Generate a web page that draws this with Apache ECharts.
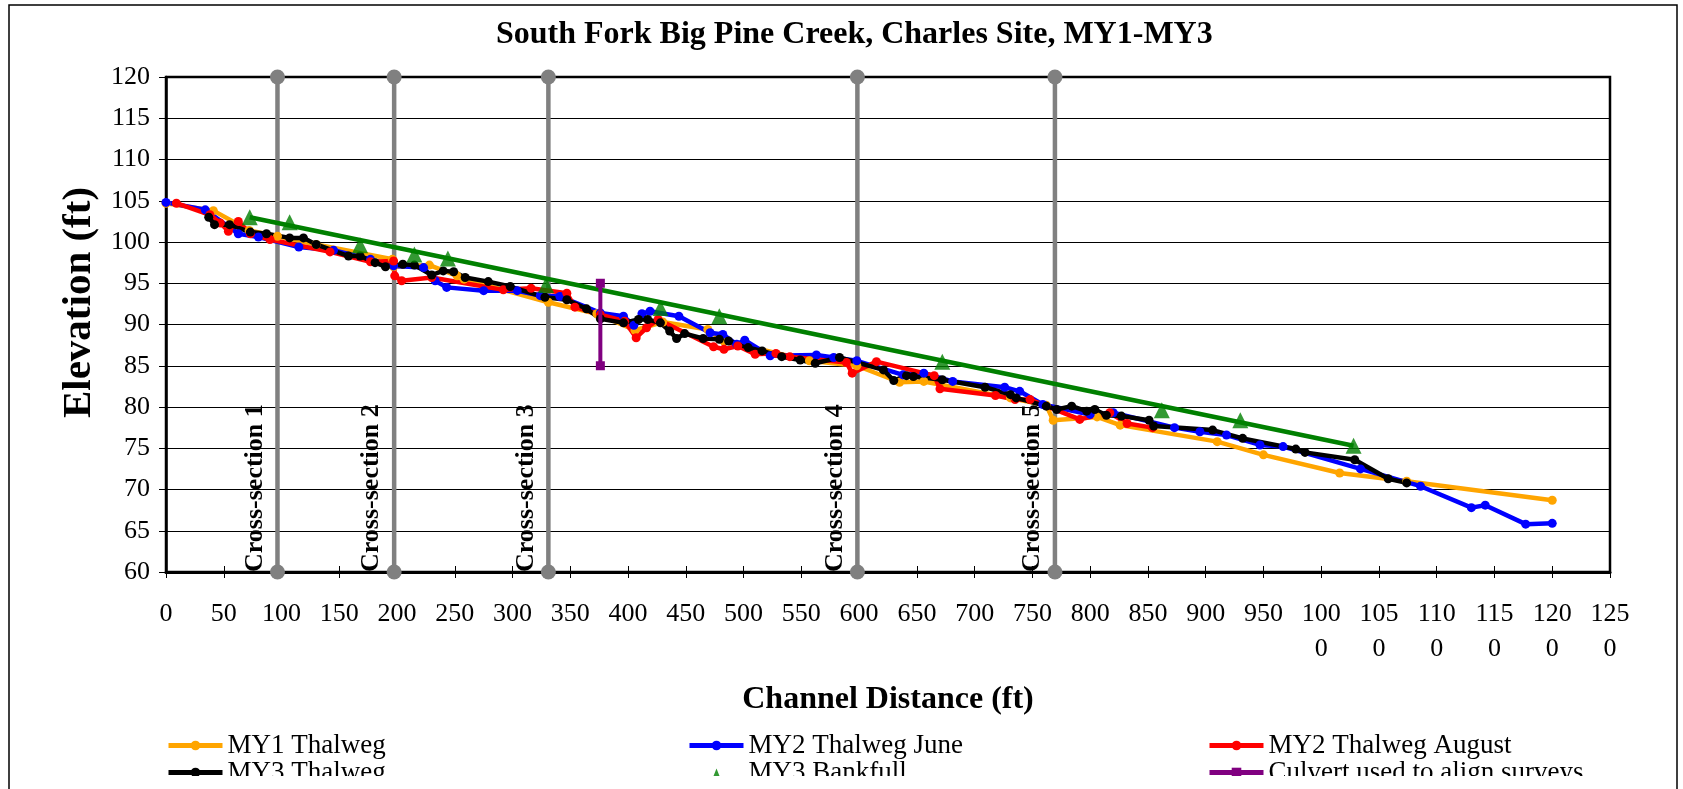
<!DOCTYPE html>
<html><head><meta charset="utf-8">
<script src="https://cdn.jsdelivr.net/npm/echarts@6/dist/echarts.min.js"></script>
<style>html,body{margin:0;padding:0;background:#fff}#c{width:1683px;height:789px}</style>
</head><body><div id="c"></div>
<script>
const titleText = 'South Fork Big Pine Creek, Charles Site, MY1-MY3';
const xAxisName = 'Channel Distance (ft)';
const yAxisName = 'Elevation (ft)';
const xMin = 0, xMax = 1250, xStep = 50;
const yMin = 60, yMax = 120, yStep = 5;

const seriesNames = ['MY1 Thalweg','MY2 Thalweg June','MY2 Thalweg August','MY3 Thalweg','MY3 Bankfull','Culvert used to align surveys'];

const my1Thalweg = [[0,104.7],[41,103.8],[72,101.4],[96.5,100.7],[130,99.7],[196,97.9],[197,97.0],[228,97.2],[252,95.9],[258,95.5],[331,92.7],[373,91.3],[406,89.3],[430,90.3],[469,89.4],[483,88.0],[557,85.6],[598,85.0],[635,83.0],[656,83.1],[731,81.1],[762,80.2],[768,78.4],[806,78.8],[826,77.8],[910,75.8],[950,74.2],[1016,72.0],[1074,71.0],[1200,68.7]];

const my2June = [[0,104.8],[34,103.9],[62.6,101.0],[80,100.6],[115,99.4],[145,99.0],[177,97.9],[197,97.1],[223,96.9],[233,95.3],[243,94.5],[275,94.1],[304,94.1],[324,93.5],[341,93.4],[376,91.4],[396,91.0],[405,89.9],[412,91.3],[419,91.6],[444,91.0],[471,89.0],[482,88.8],[494,87.6],[501,88.1],[523,86.2],[563,86.3],[578,86.0],[598,85.6],[638,83.9],[656,84.1],[681,83.1],[726,82.4],[739,81.9],[759,80.3],[800,79.1],[820,79.3],[873,77.5],[895,77.0],[918,76.6],[947,75.4],[967,75.2],[1034,72.5],[1086,70.4],[1130,67.8],[1142,68.1],[1177,65.8],[1200,65.9]];

const my2August = [[9,104.7],[38,103.3],[47,102.3],[54,101.3],[62.6,102.5],[73,101.0],[90,100.3],[142,98.8],[177,97.6],[197,97.7],[198,95.9],[204,95.3],[230,95.7],[292,94.2],[316,94.4],[347,93.8],[354,92.1],[376,91.2],[397,90.4],[407,88.4],[416,89.6],[426,90.6],[474,87.3],[483,87.0],[495,87.4],[510,86.4],[528,86.5],[540,86.1],[589,85.4],[594,84.1],[615,85.5],[665,83.8],[670,82.2],[718,81.4],[735,80.9],[748,80.9],[791,78.5],[817,79.3],[832,78.0],[854,77.5]];

const my3Thalweg = [[37,103.0],[42,102.1],[55,102.1],[73,101.2],[87,101.0],[107,100.5],[119,100.5],[130,99.7],[158,98.3],[168,98.3],[181,97.5],[190,97.0],[205,97.3],[215,97.2],[230,96.0],[240,96.5],[249,96.4],[259,95.7],[279,95.2],[298,94.6],[328,93.3],[347,93.0],[364,91.9],[376,90.7],[396,90.2],[409,90.6],[417,90.6],[428,90.2],[436,89.2],[442,88.3],[449,88.9],[465,88.3],[479,88.2],[487,88.0],[504,87.2],[516,86.8],[533,86.1],[549,85.7],[562,85.3],[583,86.0],[621,84.5],[630,83.2],[641,83.8],[647,83.7],[672,83.3],[709,82.4],[731,81.5],[736,81.1],[762,80.1],[771,79.7],[784,80.1],[797,79.5],[804,79.7],[814,79.0],[827,78.9],[851,78.4],[855,77.7],[906,77.2],[932,76.2],[978,74.9],[986,74.5],[1029,73.6],[1058,71.3],[1074,70.8]];

const my3Bankfull = [[72.5,103.0],[107,102.4],[168,99.6],[215,98.5],[244,98.0],[329,94.8],[428,92.0],[479,91.0],[672,85.5],[862,79.6],[930,78.4],[1028,75.3]];
const bankfullTrend = [[72.5,103.0],[1028,75.3]];

const culvert = [[376,85],[376,95]];

const crossSectionX = [96.5,197.5,331,598.5,769.5];
const crossSectionNames = ['Cross-section 1','Cross-section 2','Cross-section 3','Cross-section 4','Cross-section 5'];

const FONT = "'Liberation Serif','Times New Roman',serif";

const chart = echarts.init(document.getElementById('c'));

const xsSeries = crossSectionX.map((x,i)=>({
  type:'line', name:'xs'+i, silent:true, z:1,
  data:[{value:[x,yMin], label:{show:true}}, {value:[x,yMax]}],
  symbol:'circle', symbolSize:15,
  lineStyle:{color:'#808080', width:4.5},
  itemStyle:{color:'#808080'},
  label:{show:false, formatter:crossSectionNames[i], position:'left', distance:2, rotate:90,
    align:'left', verticalAlign:'bottom', fontFamily:FONT, fontWeight:'bold', fontSize:26, color:'#000'},
  animation:false
}));

function thalweg(name, data, color){
  return {type:'line', name, data, symbol:'circle', symbolSize:9, showSymbol:true,
    lineStyle:{color, width:4.5}, itemStyle:{color}, z:3, animation:false};
}

const legendBase = {top:732, orient:'vertical', padding:0, itemWidth:54, itemHeight:12, itemGap:0,
  lineStyle:{width:5},
  textStyle:{fontFamily:FONT, fontSize:27, color:'#000', lineHeight:24}};
const triIcon = 'path://M0,0L0.01,0M54,12L53.99,12M23,12L27,2L31,12Z';

const option = {
  backgroundColor:'#fff',
  animation:false,
  title:{text:titleText, left:491, top:14,
    textStyle:{fontFamily:FONT, fontWeight:'bold', fontSize:32, color:'#000'}},
  grid:{left:166, right:73, top:77, bottom:217, show:true, borderColor:'#000', borderWidth:2.5},
  xAxis:[{
    type:'value', min:xMin, max:xMax, interval:xStep,
    name:xAxisName, nameLocation:'middle', nameGap:112,
    nameTextStyle:{fontFamily:FONT, fontWeight:'bold', fontSize:32, color:'#000'},
    axisLine:{show:true, onZero:false, lineStyle:{color:'#000', width:3}},
    axisTick:{show:true, length:6, lineStyle:{color:'#000', width:1}},
    axisLabel:{fontFamily:FONT, fontSize:26, color:'#000', margin:25, lineHeight:35,
      formatter:v=>{const s=String(v); return s.length>3 ? s.slice(0,3)+'\n'+s.slice(3) : s;}},
    splitLine:{show:false}
  },{
    type:'value', min:xMin, max:xMax, interval:xStep, position:'bottom', offset:0,
    axisLine:{show:false}, axisLabel:{show:false}, splitLine:{show:false},
    axisTick:{show:true, inside:true, length:6, lineStyle:{color:'#000', width:1}}
  }],
  yAxis:{
    type:'value', min:yMin, max:yMax, interval:yStep,
    name:yAxisName, nameLocation:'middle', nameGap:64,
    nameTextStyle:{fontFamily:FONT, fontWeight:'bold', fontSize:41, color:'#000', padding:[0,0,0,44]},
    axisLine:{show:true, onZero:false, lineStyle:{color:'#000', width:2.5}},
    axisTick:{show:true, length:7, lineStyle:{color:'#000', width:1}},
    axisLabel:{fontFamily:FONT, fontSize:26, color:'#000', margin:16},
    splitLine:{show:true, lineStyle:{color:'#000', width:1}}
  },
  legend:[
    Object.assign({}, legendBase, {left:166, data:[seriesNames[0], seriesNames[3]]}),
    Object.assign({}, legendBase, {left:687, data:[seriesNames[1], {name:seriesNames[4], icon:triIcon}]}),
    Object.assign({}, legendBase, {left:1207, data:[seriesNames[2], seriesNames[5]]})
  ],
  graphic:[
    {type:'rect', z:100, silent:true, shape:{x:10, y:776, width:1666, height:13}, style:{fill:'#fff'}},
    {type:'rect', z:101, silent:true, shape:{x:9, y:5, width:1668, height:820}, style:{fill:'none', stroke:'#000', lineWidth:1.5}}
  ],
  series:[
    ...xsSeries,
    thalweg(seriesNames[0], my1Thalweg, '#FFA500'),
    thalweg(seriesNames[1], my2June, '#0000FF'),
    thalweg(seriesNames[2], my2August, '#FF0000'),
    thalweg(seriesNames[3], my3Thalweg, '#000000'),
    {type:'line', name:'bankfullTrend', data:bankfullTrend, showSymbol:false, symbol:'none', silent:true,
     lineStyle:{color:'#008000', width:4.5}, itemStyle:{color:'#008000'}, z:4},
    {type:'scatter', name:seriesNames[4], data:my3Bankfull, symbol:'triangle', symbolSize:16,
     itemStyle:{color:'#008000'}, z:5},
    {type:'line', name:seriesNames[5], data:culvert, symbol:'rect', symbolSize:9,
     lineStyle:{color:'#800080', width:4}, itemStyle:{color:'#800080'}, z:5}
  ]
};
chart.setOption(option);
</script></body></html>
